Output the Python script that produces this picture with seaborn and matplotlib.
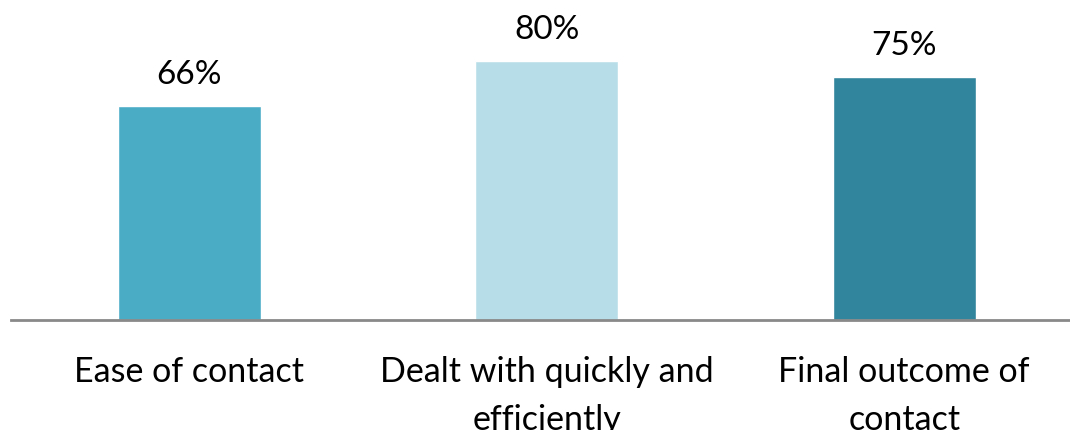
import matplotlib
matplotlib.use("Agg")
import matplotlib.pyplot as plt
import seaborn as sns
import pandas as pd

categories = ["Ease of contact", "Dealt with quickly and\nefficiently", "Final outcome of\ncontact"]
values = [66, 80, 75]
colors = ["#4BACC6", "#B7DEE8", "#31859C"]

sns.set_theme(style="white")
plt.rcParams["font.family"] = ["Lato", "DejaVu Sans"]

df = pd.DataFrame({"category": categories, "value": values})

fig = plt.figure(figsize=(10.7, 4.3), dpi=100)
ax = fig.add_axes([10.5 / 1070, 110 / 430, 1072.5 / 1070, 320 / 430])
sns.barplot(data=df, x="category", y="value", hue="category", palette=colors,
            width=0.40, legend=False, ax=ax, saturation=1)

ax.set_xlim(-0.5, 2.5)
ax.set_ylim(0, 98.8)
for i, v in enumerate(values):
    ax.text(i, v + 5, f"{v}%", ha="center", va="bottom", fontsize=24, color="#000000")

for s in ["top", "right", "left"]:
    ax.spines[s].set_visible(False)
ax.spines["bottom"].set_color("#898989")
ax.spines["bottom"].set_linewidth(2)
ax.set_yticks([])
ax.set_xlabel("")
ax.set_ylabel("")
ax.tick_params(axis="x", length=0, pad=26, labelsize=24.5, colors="#000000")
for lbl in ax.get_xticklabels():
    lbl.set_linespacing(1.62)

fig.savefig("out.png", dpi=100)
